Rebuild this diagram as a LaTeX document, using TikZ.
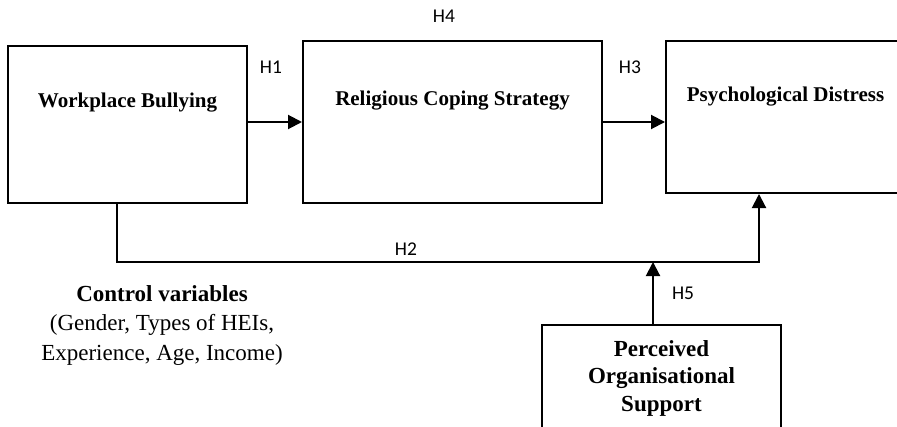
\documentclass[tikz,border=0pt]{standalone}
\usepackage{fontspec}
\setmainfont{Liberation Serif}
\newfontfamily\hypfont{Carlito}
\usetikzlibrary{arrows.meta}

\begin{document}
\begin{tikzpicture}[
  x=0.5pt, y=-0.5pt,
  box/.style={draw, line width=1pt, inner sep=0pt},
  title/.style={font=\fontsize{10.5}{13}\selectfont\bfseries, anchor=base, inner sep=0pt},
  side/.style={font=\fontsize{11.5}{14.75}\selectfont, align=center, inner sep=0pt},
  hyp/.style={font=\hypfont\fontsize{9.75}{12}\selectfont, anchor=base, inner sep=0pt},
  arr/.style={-{Triangle[length=7pt,width=7pt]}, line width=1pt}
]
\useasboundingbox (0,0) rectangle (897,427);

% boxes
\node[box, minimum width=119.5pt, minimum height=78.5pt] (wb) at (127.5,124.5) {};
\node[box, minimum width=149.5pt, minimum height=81pt] (rcs) at (452.5,122) {};
\node[box, minimum width=127pt, minimum height=76pt] (pd) at (793,117) {};
\node[box, minimum width=119.5pt, minimum height=62.5pt] (pos) at (661.5,387.5) {};

% box titles
\node[title] (wbt) at (127.5,108) {Workplace Bullying};
\node[title] (rcst) at (452.5,106) {Religious Coping Strategy};
\node[title] (pdt) at (785.5,102) {Psychological Distress};
\node[side, font=\fontsize{11.5}{13.75}\selectfont\bfseries, anchor=north] (post) at (661.5,340)
  {Perceived\\Organisational\\Support};

% control variables
\node[side, anchor=north] (ctrl) at (162,285)
  {\textbf{Control variables}\\(Gender, Types of HEIs,\\Experience, Age, Income)};

% hypotheses
\node[hyp] (h1) at (271,74) {H1};
\node[hyp] (h3) at (630,74) {H3};
\node[hyp] (h4) at (444,23) {H4};

\coordinate (bend) at (117,262);
\coordinate (rise) at (759,262);
\coordinate (join) at (653,262);

\draw[arr] (wb.east |- rcs.west) -- (rcs.west);
\draw[arr] (rcs.east) -- (rcs.east -| pd.west);
\draw[arr] (wb.south -| bend) -- (bend)
  -- node[pos=0.45, above=3pt, hyp, anchor=south] (h2) {H2} (rise)
  -- (rise |- pd.south);
\draw[arr] (pos.north -| join) -- node[right=9pt, hyp, anchor=west] (h5) {H5} (join);
\end{tikzpicture}
\end{document}
